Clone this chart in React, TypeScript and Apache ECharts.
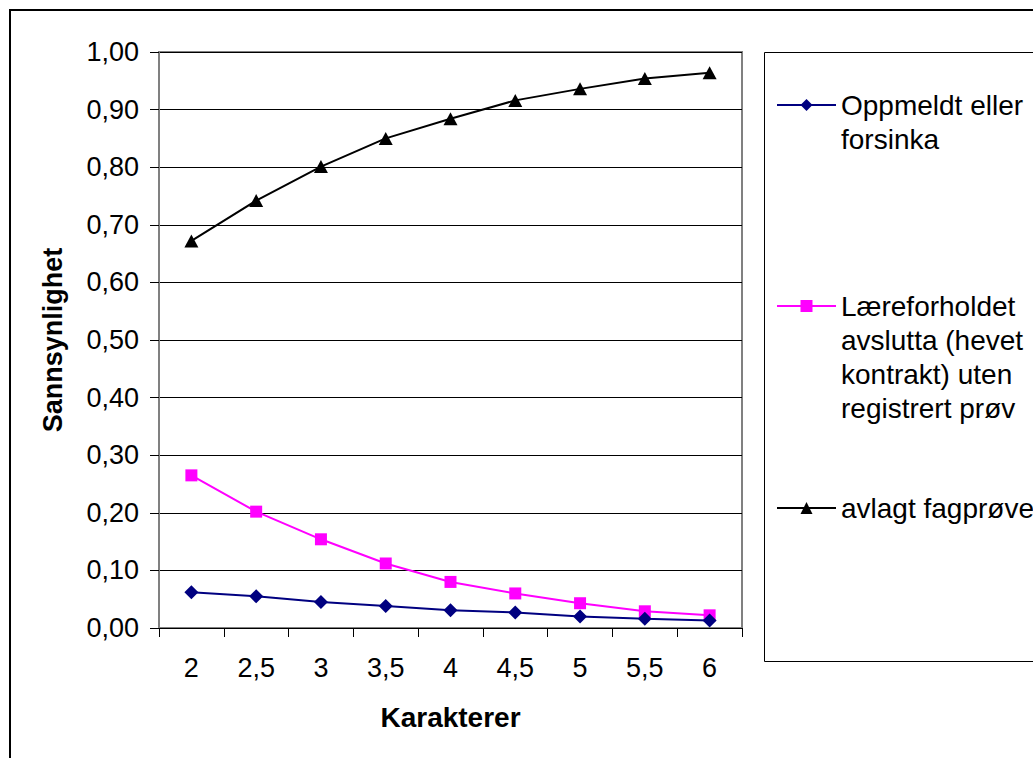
import React, { useEffect, useRef } from "react";
import * as echarts from "echarts";

const categories = ["2", "2,5", "3", "3,5", "4", "4,5", "5", "5,5", "6"];
const seriesNames = [
  "Oppmeldt eller forsinka",
  "Læreforholdet avslutta (hevet kontrakt) uten registrert prøv",
  "avlagt fagprøve",
];
const legendLines = [
  ["Oppmeldt eller", "forsinka"],
  ["Læreforholdet", "avslutta (hevet", "kontrakt) uten", "registrert prøv"],
  ["avlagt fagprøve"],
];
const oppmeldt = [0.062, 0.055, 0.045, 0.038, 0.031, 0.027, 0.02, 0.016, 0.013];
const avslutta = [0.265, 0.202, 0.154, 0.112, 0.08, 0.06, 0.043, 0.029, 0.022];
const avlagt = [0.672, 0.742, 0.801, 0.85, 0.884, 0.916, 0.936, 0.954, 0.964];
const yTicks = { min: 0, max: 1, interval: 0.1 };
const xTitle = "Karakterer";
const yTitle = "Sannsynlighet";

const FONT = "'Liberation Sans', Arial, sans-serif";

export default function App() {
  const ref = useRef<HTMLDivElement>(null);
  useEffect(() => {
    if (!ref.current) return;
    const chart = echarts.init(ref.current, null, { renderer: "svg" });
    const colors = ["#000080", "#FF00FF", "#000000"];
    const symbols = ["diamond", "rect", "triangle"];
    const sizes: any[] = [[14, 14], [12, 12], [14, 13]];
    const data = [oppmeldt, avslutta, avlagt];
    const lh = 34;
    const firstLineCenters = [105, 306, 508];
    const legends = legendLines.map((lines, i) => {
      const n = lines.length;
      // blank lines before the text keep the first line level with the icon
      const text = "\n".repeat(n - 1) + lines.join("\n");
      return {
        show: true,
        left: 776,
        top: firstLineCenters[i] - ((2 * n - 1) * lh) / 2,
        padding: 0,
        orient: "vertical",
        itemWidth: 59,
        itemHeight: 15,
        data: [seriesNames[i]],
        formatter: () => text,
        selectedMode: false,
        textStyle: {
          fontFamily: FONT,
          fontSize: 28,
          color: "#000",
          lineHeight: lh,
        },
      };
    });
    chart.setOption({
      animation: false,
      backgroundColor: "#fff",
      textStyle: { fontFamily: FONT },
      grid: {
        left: 159,
        top: 52,
        right: 1033 - 742,
        bottom: 758 - 628,
        show: true,
        borderColor: "#808080",
        borderWidth: 2,
        containLabel: false,
      },
      legend: legends,
      graphic: [
        {
          type: "rect",
          shape: { x: 10, y: 10, width: 1100, height: 900 },
          style: { fill: "none", stroke: "#000", lineWidth: 2 },
          silent: true,
          z: -1,
        },
        {
          type: "rect",
          shape: { x: 764.5, y: 52.5, width: 400, height: 609 },
          style: { fill: "none", stroke: "#000", lineWidth: 1 },
          silent: true,
          z: -1,
        },
      ],
      xAxis: {
        type: "category",
        data: categories,
        boundaryGap: true,
        name: xTitle,
        nameLocation: "middle",
        nameGap: 75,
        nameTextStyle: { fontFamily: FONT, fontSize: 28, fontWeight: "bold", color: "#000" },
        axisLine: { show: true, lineStyle: { color: "#000", width: 1 } },
        axisTick: { show: true, length: 9, alignWithLabel: false, lineStyle: { color: "#000" } },
        axisLabel: { fontFamily: FONT, fontSize: 27, color: "#000", margin: 26, interval: 0 },
        splitLine: { show: false },
      },
      yAxis: {
        type: "value",
        min: yTicks.min,
        max: yTicks.max,
        interval: yTicks.interval,
        name: yTitle,
        nameLocation: "middle",
        nameGap: 93,
        nameRotate: 90,
        nameTextStyle: { fontFamily: FONT, fontSize: 27, fontWeight: "bold", color: "#000" },
        axisLine: { show: true, lineStyle: { color: "#808080", width: 2 } },
        axisTick: { show: true, length: 9, lineStyle: { color: "#000" } },
        axisLabel: {
          fontFamily: FONT,
          fontSize: 27,
          color: "#000",
          margin: 20,
          formatter: (v: number) => v.toFixed(2).replace(".", ","),
        },
        splitLine: { show: true, lineStyle: { color: "#000", width: 1 } },
      },
      series: seriesNames.map((name, i) => ({
        name,
        type: "line",
        data: data[i],
        symbol: symbols[i],
        symbolSize: sizes[i],
        showSymbol: true,
        lineStyle: { color: colors[i], width: 2 },
        itemStyle: { color: colors[i], borderWidth: 0 },
        z: 3 + (2 - i),
      })),
    });
    return () => chart.dispose();
  }, []);
  return (
    <div
      ref={ref}
      style={{ position: "fixed", left: 0, top: 0, width: 1033, height: 758 }}
    />
  );
}
